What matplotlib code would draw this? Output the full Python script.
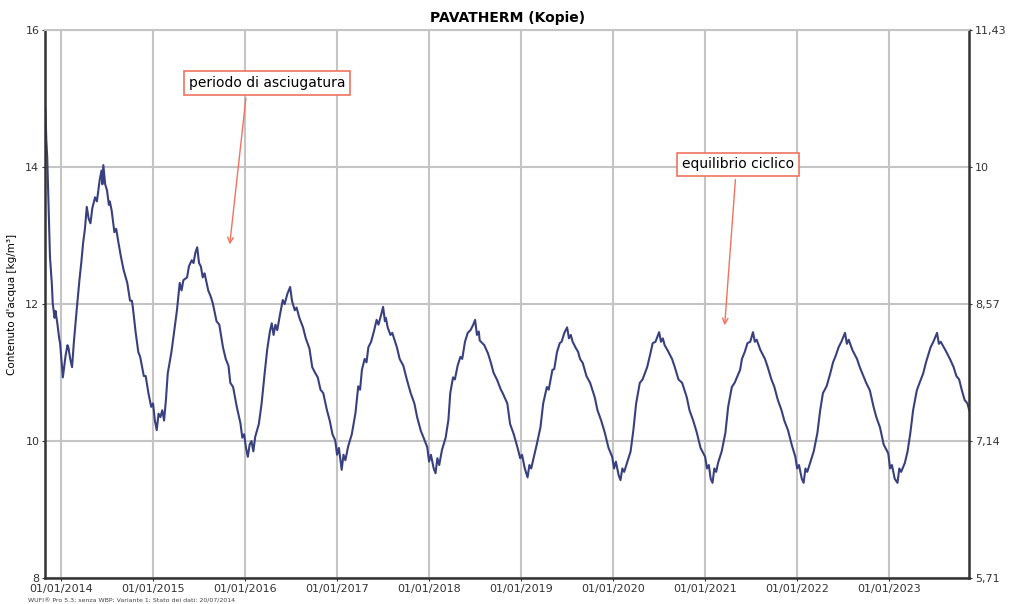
import matplotlib.pyplot as plt
import numpy

plt.rcParams['font.family'] = ['DejaVu Sans']

# time in decimal years, water content in kg/m3
t_years = [
    2013.83, 2013.84, 2013.85, 2013.87, 2013.88, 2013.90, 2013.91, 2013.93, 2013.94, 2013.96, 2013.98, 2013.99,
    2014.01, 2014.02, 2014.04, 2014.05, 2014.07, 2014.08, 2014.10, 2014.12, 2014.14, 2014.17, 2014.20, 2014.22,
    2014.24, 2014.26, 2014.28, 2014.30, 2014.32, 2014.34, 2014.37, 2014.39, 2014.42, 2014.44, 2014.45, 2014.46,
    2014.48, 2014.50, 2014.52, 2014.53, 2014.55, 2014.58, 2014.60, 2014.62, 2014.65, 2014.68, 2014.72, 2014.75,
    2014.77, 2014.78, 2014.81, 2014.84, 2014.86, 2014.90, 2014.92, 2014.95, 2014.98,
    2015.00, 2015.02, 2015.04, 2015.06, 2015.08, 2015.10, 2015.12, 2015.14, 2015.16, 2015.20, 2015.23, 2015.26,
    2015.29, 2015.31, 2015.33, 2015.37, 2015.39, 2015.42, 2015.44, 2015.46, 2015.48, 2015.50, 2015.52, 2015.54,
    2015.56, 2015.60, 2015.63, 2015.65, 2015.69, 2015.72, 2015.76, 2015.79, 2015.82, 2015.84, 2015.87, 2015.91,
    2015.95, 2015.97, 2015.99,
    2016.01, 2016.03, 2016.05, 2016.07, 2016.09, 2016.11, 2016.15, 2016.18, 2016.21, 2016.24, 2016.27, 2016.29,
    2016.31, 2016.33, 2016.35, 2016.38, 2016.41, 2016.43, 2016.46, 2016.49, 2016.51, 2016.54, 2016.56, 2016.59,
    2016.63, 2016.66, 2016.70, 2016.73, 2016.76, 2016.79, 2016.82, 2016.85, 2016.89, 2016.92, 2016.95, 2016.98,
    2017.00, 2017.02, 2017.05, 2017.07, 2017.09, 2017.12, 2017.16, 2017.20, 2017.23, 2017.25, 2017.27, 2017.30,
    2017.32, 2017.34, 2017.37, 2017.40, 2017.43, 2017.45, 2017.48, 2017.50, 2017.52, 2017.53, 2017.55, 2017.58,
    2017.60, 2017.65, 2017.68, 2017.72, 2017.76, 2017.80, 2017.84, 2017.87, 2017.91, 2017.94, 2017.98,
    2018.00, 2018.02, 2018.05, 2018.07, 2018.09, 2018.11, 2018.14, 2018.18, 2018.21, 2018.23, 2018.26, 2018.28,
    2018.31, 2018.34, 2018.36, 2018.39, 2018.42, 2018.45, 2018.48, 2018.50, 2018.52, 2018.54, 2018.55, 2018.60,
    2018.64, 2018.67, 2018.70, 2018.74, 2018.78, 2018.80, 2018.85, 2018.88, 2018.92, 2018.96, 2018.99,
    2019.01, 2019.04, 2019.07, 2019.09, 2019.11, 2019.13, 2019.17, 2019.21, 2019.24, 2019.28, 2019.30, 2019.34,
    2019.36, 2019.39, 2019.42, 2019.44, 2019.47, 2019.50, 2019.52, 2019.54, 2019.56, 2019.59, 2019.62, 2019.64,
    2019.67, 2019.71, 2019.75, 2019.80, 2019.83, 2019.87, 2019.91, 2019.95, 2019.99,
    2020.01, 2020.03, 2020.06, 2020.08, 2020.10, 2020.12, 2020.15, 2020.19, 2020.22, 2020.25, 2020.29, 2020.32,
    2020.37, 2020.40, 2020.43, 2020.46, 2020.50, 2020.52, 2020.54, 2020.56, 2020.59, 2020.62, 2020.64, 2020.67,
    2020.71, 2020.75, 2020.80, 2020.83, 2020.87, 2020.91, 2020.95,
    2021.00, 2021.02, 2021.04, 2021.06, 2021.08, 2021.10, 2021.12, 2021.14, 2021.18, 2021.22, 2021.25, 2021.29,
    2021.32, 2021.38, 2021.40, 2021.43, 2021.46, 2021.49, 2021.52, 2021.54, 2021.56, 2021.60, 2021.63, 2021.65,
    2021.68, 2021.72, 2021.75, 2021.79, 2021.83, 2021.86, 2021.90, 2021.94, 2021.98,
    2022.00, 2022.02, 2022.05, 2022.07, 2022.09, 2022.11, 2022.14, 2022.18, 2022.22, 2022.25, 2022.28, 2022.32,
    2022.36, 2022.39, 2022.42, 2022.45, 2022.48, 2022.52, 2022.54, 2022.56, 2022.60, 2022.63, 2022.65, 2022.68,
    2022.72, 2022.75, 2022.79, 2022.83, 2022.86, 2022.90, 2022.94, 2022.99,
    2023.01, 2023.03, 2023.06, 2023.09, 2023.11, 2023.13, 2023.17, 2023.20, 2023.23, 2023.26, 2023.30, 2023.33,
    2023.37, 2023.40, 2023.43, 2023.45, 2023.48, 2023.52, 2023.54, 2023.56, 2023.61, 2023.64, 2023.66, 2023.70,
    2023.73, 2023.76, 2023.79, 2023.82, 2023.85, 2023.87,
]
water = [
    14.86, 14.40, 14.15, 13.20, 12.69, 12.30, 12.01, 11.80, 11.90, 11.72, 11.50, 11.43,
    11.10, 10.93, 11.15, 11.25, 11.40, 11.37, 11.20, 11.08, 11.45, 11.91, 12.35, 12.60,
    12.89, 13.10, 13.42, 13.25, 13.18, 13.40, 13.56, 13.50, 13.81, 13.95, 13.75, 14.03,
    13.75, 13.66, 13.45, 13.50, 13.37, 13.05, 13.10, 12.93, 12.70, 12.50, 12.31, 12.05,
    12.05, 11.96, 11.60, 11.30, 11.23, 10.95, 10.95, 10.70, 10.50,
    10.55, 10.30, 10.16, 10.40, 10.35, 10.45, 10.30, 10.60, 10.99, 11.30, 11.60, 11.91,
    12.31, 12.20, 12.35, 12.39, 12.55, 12.64, 12.60, 12.75, 12.83, 12.60, 12.55, 12.39,
    12.45, 12.20, 12.10, 12.01, 11.75, 11.70, 11.37, 11.20, 11.10, 10.85, 10.79, 10.50,
    10.26, 10.05, 10.10,
    9.90, 9.77, 9.95, 10.00, 9.85, 10.06, 10.25, 10.55, 10.95, 11.33, 11.60, 11.72,
    11.55, 11.70, 11.62, 11.85, 12.06, 12.00, 12.15, 12.25, 12.05, 11.91, 11.95, 11.80,
    11.66, 11.50, 11.35, 11.08, 11.00, 10.93, 10.75, 10.70, 10.45, 10.30, 10.10, 10.01,
    9.80, 9.90, 9.58, 9.80, 9.72, 9.92, 10.10, 10.41, 10.80, 10.75, 11.04, 11.20,
    11.15, 11.37, 11.45, 11.60, 11.77, 11.70, 11.85, 11.96, 11.75, 11.80, 11.66, 11.55,
    11.58, 11.37, 11.20, 11.10, 10.89, 10.70, 10.55, 10.35, 10.15, 10.05, 9.91,
    9.70, 9.80, 9.60, 9.53, 9.75, 9.65, 9.87, 10.05, 10.31, 10.70, 10.93, 10.90,
    11.10, 11.23, 11.20, 11.45, 11.58, 11.62, 11.70, 11.77, 11.55, 11.60, 11.47, 11.40,
    11.28, 11.15, 11.00, 10.89, 10.75, 10.70, 10.55, 10.25, 10.10, 9.91, 9.75,
    9.80, 9.60, 9.47, 9.65, 9.60, 9.72, 9.95, 10.20, 10.55, 10.79, 10.75, 11.04,
    11.05, 11.30, 11.43, 11.45, 11.58, 11.66, 11.50, 11.55, 11.45, 11.37, 11.30, 11.20,
    11.14, 10.95, 10.85, 10.64, 10.45, 10.30, 10.12, 9.90, 9.77,
    9.60, 9.70, 9.50, 9.43, 9.60, 9.55, 9.68, 9.85, 10.16, 10.55, 10.85, 10.90,
    11.08, 11.25, 11.43, 11.45, 11.59, 11.45, 11.50, 11.40, 11.33, 11.25, 11.20, 11.08,
    10.90, 10.85, 10.64, 10.45, 10.30, 10.12, 9.90,
    9.77, 9.60, 9.65, 9.45, 9.39, 9.60, 9.55, 9.68, 9.85, 10.12, 10.50, 10.79,
    10.85, 11.04, 11.20, 11.30, 11.43, 11.45, 11.59, 11.45, 11.48, 11.33, 11.25, 11.20,
    11.08, 10.90, 10.80, 10.60, 10.45, 10.30, 10.16, 9.95, 9.77,
    9.60, 9.65, 9.45, 9.39, 9.60, 9.55, 9.68, 9.85, 10.12, 10.45, 10.70, 10.80,
    10.99, 11.15, 11.25, 11.37, 11.45, 11.58, 11.42, 11.48, 11.33, 11.25, 11.20, 11.08,
    10.95, 10.85, 10.74, 10.50, 10.35, 10.20, 9.95, 9.82,
    9.60, 9.65, 9.45, 9.39, 9.60, 9.55, 9.68, 9.85, 10.12, 10.45, 10.74, 10.85,
    10.99, 11.15, 11.28, 11.37, 11.45, 11.58, 11.42, 11.45, 11.33, 11.25, 11.20, 11.08,
    10.95, 10.90, 10.74, 10.60, 10.55, 10.45,
]

year_ticks = [2014, 2015, 2016, 2017, 2018, 2019, 2020, 2021, 2022, 2023]
year_labels = ["01/01/%d" % y for y in year_ticks]
left_ticks = [8, 10, 12, 14, 16]
right_labels = ["5,71", "7,14", "8,57", "10", "11,43"]

line_color = "#39407f"
grid_color = "#c4c4c4"
red = "#f0735f"

fig = plt.figure(figsize=(10.09, 6.04), dpi=100)
ax = fig.add_axes([0.0446, 0.043, 0.916, 0.907])

ax.plot(t_years, water, color=line_color, lw=1.5)

ax.set_xlim(2013.826, 2023.87)
ax.set_ylim(8, 16)
ax.set_xticks(year_ticks)
ax.set_xticklabels(year_labels)
ax.set_yticks(left_ticks)
ax.set_yticklabels([str(v) for v in left_ticks])
ax.grid(True, color=grid_color, lw=1.5)
ax.tick_params(labelsize=8, colors="#333333", length=2, pad=2)

for side in ["left", "bottom", "right"]:
    ax.spines[side].set_color("#333333")
    ax.spines[side].set_linewidth(1.8)
ax.spines["top"].set_color(grid_color)
ax.spines["top"].set_linewidth(1.5)

ax.set_ylabel("Contenuto d'acqua [kg/m³]", fontsize=7.5, labelpad=6)
ax.set_title("PAVATHERM (Kopie)", fontsize=10, fontweight="bold", pad=6)

ax2 = ax.twinx()
ax2.set_ylim(8 / 1.4, 16 / 1.4)
ax2.set_yticks(numpy.array(left_ticks) / 1.4)
ax2.set_yticklabels(right_labels)
ax2.tick_params(labelsize=8, colors="#333333", length=2, pad=2)
for s in ax2.spines.values():
    s.set_visible(False)

box = dict(boxstyle="square,pad=0.35", fc="white", ec=red, lw=1.2)
ax.annotate("periodo di asciugatura", xy=(2015.83, 12.83), xytext=(2016.24, 15.23),
            fontsize=10, ha="center", va="center", bbox=box,
            arrowprops=dict(arrowstyle="->", color=red, lw=1, relpos=(0.37, 0)))
ax.annotate("equilibrio ciclico", xy=(2021.21, 11.65), xytext=(2021.36, 14.04),
            fontsize=10, ha="center", va="center", bbox=box,
            arrowprops=dict(arrowstyle="->", color=red, lw=1, relpos=(0.48, 0)))

fig.text(0.028, 0.003, "WUFI® Pro 5.3; senza WBP; Variante 1; Stato dei dati: 20/07/2014",
         fontsize=4.5, color="#444444")

fig.savefig("out.png", dpi=100)
